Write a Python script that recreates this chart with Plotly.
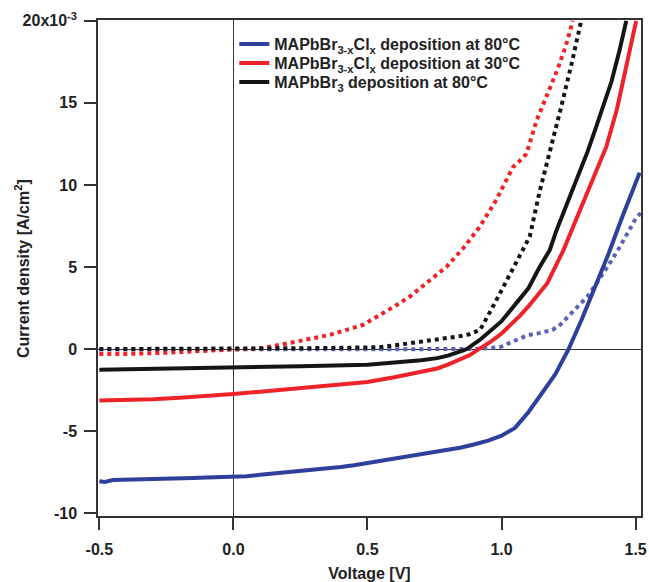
import plotly.graph_objects as go

# ---------------- data (voltage in V, current density in 10^-3 A/cm^2) ----------------
blue_solid_v = [-0.5, -0.48, -0.45, -0.4, -0.35, -0.3, -0.25, -0.2, -0.15, -0.1, -0.05, 0.0, 0.05, 0.1,
                0.15, 0.2, 0.25, 0.3, 0.35, 0.4, 0.45, 0.5, 0.55, 0.6, 0.65, 0.7, 0.75, 0.8, 0.85, 0.9,
                0.95, 1.0, 1.05, 1.1, 1.15, 1.2, 1.25, 1.3, 1.35, 1.4, 1.45, 1.5, 1.515]
blue_solid_j = [-8.05, -8.1, -7.98, -7.97, -7.92, -7.93, -7.9, -7.88, -7.86, -7.83, -7.8, -7.72, -7.75, -7.65,
                -7.58, -7.52, -7.45, -7.38, -7.28, -7.18, -7.08, -6.95, -6.82, -6.68, -6.5, -6.38, -6.25, -6.12,
                -6.0, -5.8, -5.58, -5.28, -4.8, -3.85, -2.75, -1.55, 0.0, 1.85, 3.85, 5.85, 8.05, 10.15, 10.75]

blue_dot_v = [-0.5, 0.0, 0.5, 0.9, 0.95, 1.0, 1.04, 1.07, 1.1, 1.14, 1.19, 1.22, 1.25, 1.28, 1.32, 1.35,
              1.38, 1.41, 1.44, 1.47, 1.5, 1.52]
blue_dot_j = [-0.02, -0.02, -0.02, 0.0, 0.05, 0.15, 0.45, 0.63, 0.85, 0.97, 1.17, 1.5, 2.0, 2.5, 3.2, 3.9,
              4.6, 5.4, 6.2, 7.1, 7.95, 8.3]

red_solid_v = [-0.5, -0.4, -0.3, -0.2, -0.1, 0.0, 0.1, 0.2, 0.3, 0.4, 0.5, 0.6, 0.7, 0.76, 0.8, 0.85, 0.88,
               0.915, 0.96, 1.0, 1.04, 1.07, 1.1, 1.17, 1.23, 1.29, 1.34, 1.39, 1.43, 1.465, 1.502]
red_solid_j = [-3.13, -3.1, -3.05, -2.97, -2.87, -2.74, -2.6, -2.45, -2.3, -2.17, -2.0, -1.72, -1.42, -1.18,
               -0.95, -0.62, -0.38, 0.0, 0.45, 0.95, 1.55, 2.05, 2.6, 4.0, 6.0, 8.4, 10.3, 12.3, 14.6, 17.2, 20.0]

red_dot_v = [-0.5, -0.4, -0.25, -0.1, 0.0, 0.11, 0.236, 0.36, 0.484, 0.559, 0.609, 0.658, 0.72, 0.795, 0.86,
             0.919, 0.98, 1.043, 1.07, 1.093, 1.13, 1.17, 1.21, 1.24, 1.266]
red_dot_j = [-0.3, -0.3, -0.22, -0.12, -0.05, 0.06, 0.46, 0.87, 1.48, 2.19, 2.69, 3.2, 4.01, 5.02, 6.2,
             7.46, 9.08, 11.1, 11.5, 11.9, 13.9, 15.5, 17.1, 18.5, 20.0]

black_solid_v = [-0.5, -0.25, 0.0, 0.25, 0.5, 0.6, 0.7, 0.76, 0.8, 0.85, 0.87, 0.92, 0.95, 1.0, 1.055,
                 1.1, 1.142, 1.18, 1.204, 1.24, 1.29, 1.32, 1.35, 1.38, 1.41, 1.44, 1.465]
black_solid_j = [-1.26, -1.2, -1.12, -1.05, -0.96, -0.85, -0.68, -0.55, -0.4, -0.12, 0.0, 0.57, 1.0, 1.7,
                 2.8, 3.7, 5.0, 6.04, 7.2, 8.7, 10.7, 12.0, 13.4, 14.8, 16.3, 18.2, 20.0]

black_dot_v = [-0.5, -0.25, 0.0, 0.25, 0.5, 0.55, 0.66, 0.72, 0.76, 0.8, 0.85, 0.88, 0.92, 0.968, 1.0,
               1.043, 1.08, 1.105, 1.142, 1.18, 1.22, 1.26, 1.297]
black_dot_j = [0.0, 0.0, 0.02, 0.05, 0.1, 0.12, 0.36, 0.5, 0.55, 0.65, 0.8, 0.9, 1.17, 2.59, 3.6,
               5.02, 6.14, 6.85, 9.6, 12.0, 14.6, 17.3, 20.0]

legend_names = ["MAPbBr<sub>3-x</sub>Cl<sub>x</sub> deposition at 80°C",
                "MAPbBr<sub>3-x</sub>Cl<sub>x</sub> deposition at 30°C",
                "MAPbBr<sub>3</sub> deposition at 80°C"]

y_tick_vals = [-10, -5, 0, 5, 10, 15, 20]
y_tick_text = ["-10", "-5", "0", "5", "10", "15", "20x10<sup>-3</sup>"]
x_tick_vals = [-0.5, 0.0, 0.5, 1.0, 1.5]
x_tick_text = ["-0.5", "0.0", "0.5", "1.0", "1.5"]
x_title = "Voltage [V]"
y_title = "Current density [A/cm<sup>2</sup>]"

# ---------------- styles ----------------
BLUE = "#2f3f9c"
BLUE_DOT = "#5c63b6"
RED = "#ee2229"
BLACK = "#151515"
LW = 4
FONT = "Liberation Sans, Arial, Helvetica, sans-serif"
TXT = "#222222"

fig = go.Figure()

# dotted (dark) curves, not in legend
fig.add_trace(go.Scatter(x=blue_dot_v, y=blue_dot_j, mode="lines", showlegend=False,
                         line=dict(color=BLUE_DOT, width=LW, dash="4px,4px")))
fig.add_trace(go.Scatter(x=red_dot_v, y=red_dot_j, mode="lines", showlegend=False,
                         line=dict(color=RED, width=LW, dash="4px,4px")))
fig.add_trace(go.Scatter(x=black_dot_v, y=black_dot_j, mode="lines", showlegend=False,
                         line=dict(color=BLACK, width=LW, dash="4px,4px")))

# solid (illuminated) curves, one legend box each so rows can be spaced like the original
fig.add_trace(go.Scatter(x=blue_solid_v, y=blue_solid_j, mode="lines", name=legend_names[0],
                         line=dict(color=BLUE, width=LW), legend="legend"))
fig.add_trace(go.Scatter(x=red_solid_v, y=red_solid_j, mode="lines", name=legend_names[1],
                         line=dict(color=RED, width=LW), legend="legend2"))
fig.add_trace(go.Scatter(x=black_solid_v, y=black_solid_j, mode="lines", name=legend_names[2],
                         line=dict(color=BLACK, width=LW), legend="legend3"))


def leg(ypos):
    return dict(x=0.251, y=ypos, xanchor="left", yanchor="middle",
                bgcolor="rgba(0,0,0,0)", borderwidth=0,
                font=dict(family=FONT, size=16, color=TXT, weight="bold"))


fig.update_layout(
    width=649, height=582,
    margin=dict(l=98, r=8, t=20, b=66),
    paper_bgcolor="white", plot_bgcolor="white",
    font=dict(family=FONT, size=16, color=TXT, weight="bold"),
    legend=leg(0.9516),
    legend2=leg(0.9133),
    legend3=leg(0.875),
    xaxis=dict(range=[-0.505, 1.52], tickvals=x_tick_vals, ticktext=x_tick_text,
               automargin=False,
               showgrid=False, zeroline=True, zerolinecolor="#333333", zerolinewidth=1,
               showline=True, mirror=True, linecolor="#333333", linewidth=1.5,
               ticks="outside", ticklen=12, tickwidth=1.5, tickcolor="#333333",
               ticklabelstandoff=6,
               title=dict(text=x_title, standoff=12,
                          font=dict(family=FONT, size=16, color=TXT, weight="bold"))),
    yaxis=dict(range=[-10.17, 20.05], tickvals=y_tick_vals, ticktext=y_tick_text,
               automargin=False,
               showgrid=False, zeroline=True, zerolinecolor="#333333", zerolinewidth=1,
               showline=True, mirror=True, linecolor="#333333", linewidth=1.5,
               ticks="outside", ticklen=12, tickwidth=1.5, tickcolor="#333333",
               ticklabelstandoff=4),
    annotations=[dict(text=y_title, textangle=-90, xref="paper", yref="paper",
                      x=-0.14, y=0.5, xanchor="center", yanchor="middle", showarrow=False,
                      font=dict(family=FONT, size=16, color=TXT, weight="bold"))],
)

# remove the browser's default 8px page margin so the figure sits at the window's top-left
fig.write_html("out.html", config={"displayModeBar": False},
               post_script="document.body.style.margin='0px';document.body.style.padding='0px';")
